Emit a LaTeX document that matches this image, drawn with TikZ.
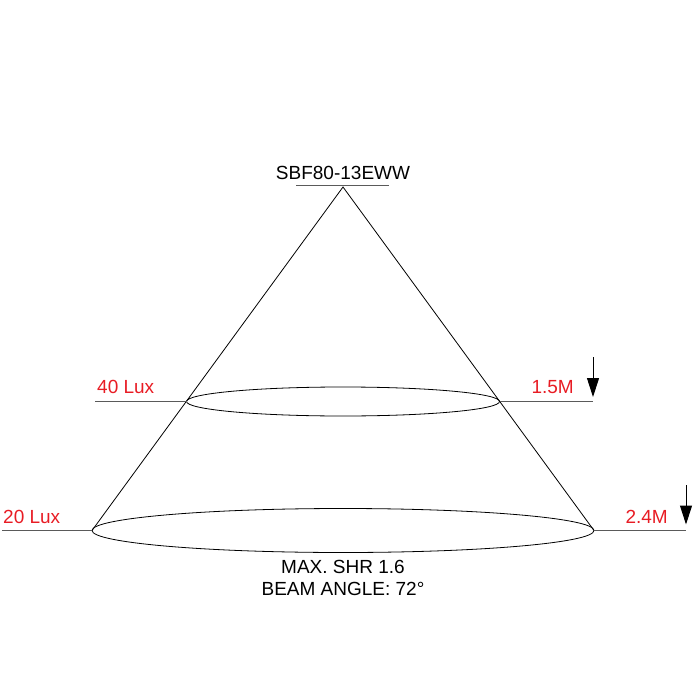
\documentclass[tikz,border=0pt]{standalone}
\usepackage{fontspec}
\setmainfont{Liberation Sans}
\usepackage{xcolor}
\usetikzlibrary{arrows.meta}
\definecolor{luxred}{RGB}{232,28,36}
\definecolor{bargray}{RGB}{90,90,90}

\begin{document}
\begin{tikzpicture}[x=1pt,y=-1pt,
  every node/.style={inner sep=0pt,font=\fontsize{19}{22}\selectfont},
  redlabel/.style={text=luxred},
  levelbar/.style={draw=bargray,line width=1.1pt},
  dropdown/.style={draw=black,line width=1pt,-{Triangle[length=19pt,width=12pt]}}]
\useasboundingbox (0,0) rectangle (700,700);
% cone
\coordinate (apex) at (343,187);
\coordinate (bl) at (92,530.5);
\coordinate (br) at (594,530.5);
\coordinate (ul) at (186.5,401.5);
\coordinate (ur) at (499.5,401.5);
\draw [black,line width=0.8pt] (bl) -- (apex) -- (br);
\draw [black,line width=0.8pt] (343,401.5) ellipse (156.5 and 14.5);
\draw [black,line width=0.8pt] (343,530.5) ellipse (251 and 22);
% model
\node [anchor=base] (model) at (343,180) {SBF80-13EWW};
\coordinate (mbl) at (296,185.5);
\coordinate (mbr) at (389,185.5);
\draw [levelbar] (mbl) -- (mbr);
% 1.5M level
\coordinate (l40) at (95,401.5);
\coordinate (r15) at (593,401.5);
\draw [levelbar] (l40) -- (ul);
\draw [levelbar] (ur) -- (r15);
\node [redlabel,anchor=base west] (lux40) at (97,393) {40 Lux};
\node [redlabel,anchor=base east] (m15) at (574,393) {1.5M};
\coordinate (a15) at (593,357);
\coordinate (t15) at (593,397);
\draw [dropdown] (a15) -- (t15);
% 2.4M level
\coordinate (l20) at (2,530.5);
\coordinate (r24) at (686,530.5);
\draw [levelbar] (l20) -- (bl);
\draw [levelbar] (br) -- (r24);
\node [redlabel,anchor=base west] (lux20) at (3,523) {20 Lux};
\node [redlabel,anchor=base east] (m24) at (668,523) {2.4M};
\coordinate (a24) at (686,485);
\coordinate (t24) at (686,524.5);
\draw [dropdown] (a24) -- (t24);
% notes
\node [anchor=base] (shr) at (343,573) {MAX. SHR 1.6};
\node [anchor=base] (beam) at (343,595) {BEAM ANGLE: 72°};
\end{tikzpicture}
\end{document}
